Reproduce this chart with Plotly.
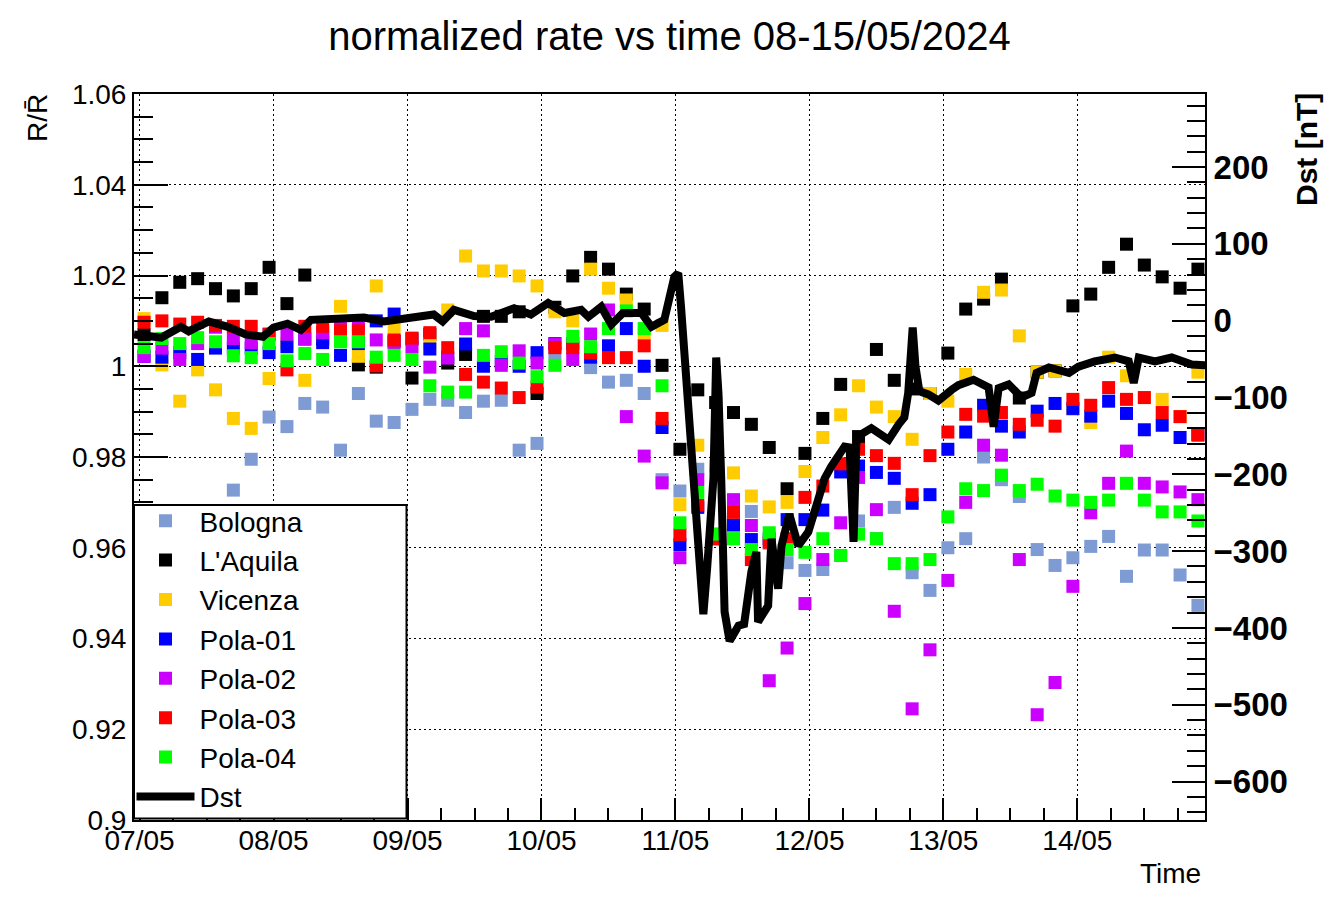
import pandas as pd
import plotly.graph_objects as go

# ---------------- data ----------------
BIN_START = "2024-05-07 00:48"
N_BINS = 60
BIN_MINUTES = 192

bologna = [0.960, 0.958, 0.962, 0.965, 0.963, 0.9727, 0.9795, 0.9888, 0.9867, 0.9918,
           0.9910, 0.9815, 0.9940, 0.9879, 0.9876, 0.9905, 0.9927, 0.9925, 0.9898, 0.9923,
           0.9925, 0.9815, 0.9830, 1.0030, 1.0040, 0.9997, 0.9965, 0.9969, 0.9940, 0.9750,
           0.9725, 0.9773, 0.9630, 0.9620, 0.9680, 0.9610, 0.9567, 0.9550, 0.9552, 0.9583,
           0.9659, 0.9620, 0.9689, 0.9545, 0.9506, 0.9600, 0.9620, 0.9800, 0.9750, 0.9713,
           0.9596, 0.9561, 0.9578, 0.9603, 0.9625, 0.9537, 0.9595, 0.9595, 0.9540, 0.9473]

laquila = [1.0070, 1.0151, 1.0185, 1.0193, 1.0171, 1.0155, 1.0171, 1.0218, 1.0138, 1.0201,
           1.0060, 1.0078, 1.0003, 0.9998, 1.0055, 0.9974, 1.0070, 1.0007, 1.0026, 1.0110,
           1.0110, 1.0120, 0.9940, 1.0130, 1.0199, 1.0240, 1.0214, 1.0159, 1.0126, 1.0002,
           0.9817, 0.9948, 0.9920, 0.9898, 0.9872, 0.9821, 0.9730, 0.9808, 0.9885, 0.9960,
           0.9845, 1.0037, 0.9969, 0.9950, 0.9940, 1.0029, 1.0126, 1.0148, 1.0192, 0.9930,
           0.9987, 0.9990, 1.0133, 1.0159, 1.0218, 1.0269, 1.0223, 1.0197, 1.0172, 1.0214]

vicenza = [1.0105, 1.0003, 0.9923, 0.9992, 0.9948, 0.9885, 0.9863, 0.9973, 1.0050, 0.9969,
           1.0067, 1.0132, 1.0022, 1.0177, 1.0086, 1.0060, 1.0050, 1.0124, 1.0243, 1.0210,
           1.0210, 1.0199, 1.0177, 1.0120, 1.0100, 1.0214, 1.0172, 1.0146, 1.0073, 1.0090,
           0.9695, 0.9826, 0.9780, 0.9765, 0.9714, 0.9690, 0.9700, 0.9768, 0.9843, 0.9893,
           0.9957, 0.9910, 0.9889, 0.9839, 0.9940, 0.9923, 0.9982, 1.0163, 1.0168, 1.0067,
           0.9987, 0.9990, 0.9905, 0.9876, 1.0020, 0.9979, 0.9931, 0.9927, 0.9889, 0.9987]

pola01 = [1.0022, 1.0020, 1.0030, 1.0015, 1.0040, 1.0040, 1.0040, 1.0030, 1.0043, 1.0060,
          1.0052, 1.0024, 1.0050, 1.0100, 1.0115, 1.0060, 1.0038, 1.0020, 1.0049, 1.0000,
          1.0010, 1.0000, 1.0030, 1.0050, 1.0050, 1.0020, 1.0045, 1.0083, 1.0000, 0.9865,
          0.9607, 0.9689, 0.9620, 0.9650, 0.9618, 0.9620, 0.9662, 0.9662, 0.9683, 0.9767,
          0.9780, 0.9766, 0.9753, 0.9698, 0.9717, 0.9817, 0.9855, 0.9914, 0.9868, 0.9855,
          0.9901, 0.9918, 0.9907, 0.9890, 0.9923, 0.9896, 0.9860, 0.9870, 0.9843, 0.9850]

pola02 = [1.0022, 1.0040, 1.0015, 1.0050, 1.0086, 1.0061, 1.0052, 1.0070, 1.0071, 1.0060,
          1.0074, 1.0089, 1.0090, 1.0058, 1.0052, 1.0043, 0.9998, 1.0018, 1.0083, 1.0078,
          1.0002, 1.0034, 1.0007, 1.0049, 1.0015, 1.0071, 1.0124, 0.9889, 0.9802, 0.9743,
          0.9578, 0.9750, 0.9620, 0.9706, 0.9649, 0.9307, 0.9379, 0.9477, 0.9574, 0.9655,
          0.9755, 0.9684, 0.9460, 0.9245, 0.9375, 0.9528, 0.9700, 0.9826, 0.9804, 0.9574,
          0.9232, 0.9303, 0.9515, 0.9677, 0.9742, 0.9813, 0.9742, 0.9734, 0.9723, 0.9706]

pola03 = [1.0097, 1.0100, 1.0093, 1.0097, 1.0090, 1.0088, 1.0088, 1.0071, 0.9992, 1.0088,
          1.0088, 1.0078, 1.0078, 1.0001, 1.0058, 1.0062, 1.0074, 1.0041, 0.9982, 0.9965,
          0.9952, 0.9931, 0.9954, 1.0041, 1.0041, 1.0029, 1.0019, 1.0019, 1.0045, 0.9885,
          0.9629, 0.9694, 0.9620, 0.9678, 0.9574, 0.9612, 0.9620, 0.9711, 0.9736, 0.9785,
          0.9817, 0.9803, 0.9786, 0.9717, 0.9803, 0.9855, 0.9894, 0.9890, 0.9898, 0.9872,
          0.9881, 0.9868, 0.9927, 0.9914, 0.9953, 0.9927, 0.9931, 0.9898, 0.9889, 0.9848]

pola04 = [1.0041, 1.0061, 1.0050, 1.0063, 1.0054, 1.0023, 1.0019, 1.0050, 1.0012, 1.0028,
          1.0015, 1.0054, 1.0054, 1.0020, 1.0024, 1.0015, 0.9957, 0.9943, 0.9943, 1.0024,
          1.0032, 1.0007, 0.9977, 1.0002, 1.0066, 1.0043, 1.0083, 1.0122, 1.0083, 0.9957,
          0.9655, 0.9722, 0.9630, 0.9620, 0.9596, 0.9633, 0.9596, 0.9590, 0.9620, 0.9583,
          0.9630, 0.9620, 0.9565, 0.9565, 0.9574, 0.9668, 0.9730, 0.9726, 0.9760, 0.9726,
          0.9740, 0.9714, 0.9705, 0.9700, 0.9705, 0.9742, 0.9705, 0.9679, 0.9679, 0.9659]

# Dst index: hours since 07/05/2024 00:00 and value in nT
dst_hours = [-1.0, 3.9, 7.4, 8.8, 10.4, 12.4, 15.8, 19.0, 22.1, 24.0,
             26.5, 28.9, 30.7, 34.3, 40.2, 43.8, 46.3, 48.4, 52.7, 54.3,
             56.3, 59.9, 63.0, 67.1, 70.1, 73.2, 76.1, 79.1, 80.4, 82.7,
             84.5, 86.6, 89.9, 91.7, 94.0, 95.8, 96.5, 97.0, 97.6, 98.3,
             98.8, 99.4, 100.1, 101.0, 101.7, 102.4, 102.8, 103.3, 103.7, 104.2,
             104.8, 105.7, 107.3, 108.3, 109.6, 110.5, 110.8, 112.6, 113.2, 114.4,
             115.0, 116.4, 118.0, 119.8, 120.9, 122.7, 123.9, 126.3, 127.2, 127.9,
             128.4, 128.8, 131.1, 134.2, 136.0, 137.0, 137.7, 138.5, 139.0, 139.7,
             141.3, 143.1, 145.5, 146.7, 149.4, 152.1, 153.0, 153.9, 155.7, 158.0,
             159.8, 160.7, 162.9, 166.5, 168.2, 171.1, 174.7, 177.2, 178.1, 179.0,
             181.9, 184.9, 188.5, 190.9]
dst_values = [-18, -22, -8, -14, -8, -1, -8, -18, -21, -9,
              -4, -12, 1, 3, 4, -1, 1, 4, 8, -1,
              14, 6, 5, 16, 8, 23, 10, 14, 5, 18,
              -5, 10, 10, -8, 1, 57, 62, 18, -40, -119,
              -155, -197, -290, -382, -320, -262, -206, -48, -94, -206,
              -379, -417, -397, -395, -327, -301, -392, -371, -284, -349,
              -293, -252, -293, -275, -249, -206, -190, -164, -165, -288,
              -160, -150, -140, -155, -135, -126, -94, -9, -60, -92,
              -96, -104, -90, -84, -77, -87, -138, -88, -83, -100,
              -94, -68, -61, -68, -60, -53, -48, -53, -81, -48,
              -53, -48, -57, -58]

day_ticks = ["2024-05-07", "2024-05-08", "2024-05-09", "2024-05-10",
             "2024-05-11", "2024-05-12", "2024-05-13", "2024-05-14"]
day_labels = ["07/05", "08/05", "09/05", "10/05", "11/05", "12/05", "13/05", "14/05"]
rate_ticks = [0.90, 0.92, 0.94, 0.96, 0.98, 1.00, 1.02, 1.04, 1.06]
rate_labels = ["0.9", "0.92", "0.94", "0.96", "0.98", "1", "1.02", "1.04", "1.06"]
dst_ticks = [-600, -500, -400, -300, -200, -100, 0, 100, 200]

series_names = ["Bologna", "L'Aquila", "Vicenza", "Pola-01", "Pola-02", "Pola-03", "Pola-04"]
series_values = [bologna, laquila, vicenza, pola01, pola02, pola03, pola04]
series_colors = ["#7f9bd3", "#000000", "#ffcc00", "#0000ff", "#cc00ff", "#ff0000", "#00ff00"]

# ---------------- figure ----------------
times = pd.date_range(BIN_START, periods=N_BINS, freq=f"{BIN_MINUTES}min")
dst_times = pd.Timestamp("2024-05-07") + pd.to_timedelta(dst_hours, unit="h")

FONT = "Liberation Sans, Arial, Helvetica, sans-serif"
W, H = 1324, 901          # page body margin is removed below (post_script)
ML, MR, MT, MB = 134, 119, 94, 81
PW, PH = W - ML - MR, H - MT - MB


def px(x):   # page x (pixels) -> paper x
    return (x - ML) / PW


def py(y):   # page y (pixels) -> paper y
    return (H - MB - y) / PH


fig = go.Figure()
for name, vals, col in zip(series_names, series_values, series_colors):
    fig.add_trace(go.Scatter(
        x=times, y=vals, mode="markers", name=name,
        marker=dict(symbol="square", size=13, color=col, line=dict(width=0)),
        yaxis="y",
    ))

fig.add_trace(go.Scatter(
    x=dst_times, y=dst_values, mode="lines", name="Dst",
    line=dict(color="black", width=8), yaxis="y2",
))

grid_dash = "2px,3px"
fig.update_layout(
    width=W, height=H,
    margin=dict(l=ML, r=MR, t=MT, b=MB, pad=0),
    paper_bgcolor="white", plot_bgcolor="white",
    font=dict(family=FONT, color="black", size=28),
    title=dict(text="normalized rate vs time 08-15/05/2024",
               x=0.5, xref="paper", xanchor="center",
               y=1 - 36 / H, yref="container", yanchor="middle",
               font=dict(size=40, family=FONT, color="black")),
    showlegend=True,
    legend=dict(x=px(131.5), y=py(496), xanchor="left", yanchor="top",
                bgcolor="rgba(0,0,0,0)", borderwidth=0,
                font=dict(size=28, family=FONT, color="black"),
                itemwidth=58, tracegroupgap=0, traceorder="normal"),
    xaxis=dict(
        type="date",
        range=["2024-05-06 23:00", "2024-05-14 22:52"],
        tickvals=day_ticks, ticktext=day_labels,
        ticks="inside", ticklen=22, tickwidth=2, tickcolor="black",
        minor=dict(dtick=6 * 3600 * 1000, tick0="2024-05-07", ticks="inside",
                   ticklen=12, tickwidth=2, tickcolor="black", showgrid=False),
        showgrid=True, gridcolor="black", gridwidth=1, griddash=grid_dash,
        showline=True, mirror=True, linecolor="black", linewidth=2,
        zeroline=False, tickfont=dict(size=28), ticklabelstandoff=-6,
    ),
    yaxis=dict(
        range=[0.9, 1.06],
        tickvals=rate_ticks, ticktext=rate_labels,
        ticks="inside", ticklen=34, tickwidth=2, tickcolor="black",
        minor=dict(dtick=0.005, tick0=0.9, ticks="inside", ticklen=19,
                   tickwidth=2, tickcolor="black", showgrid=False),
        showgrid=True, gridcolor="black", gridwidth=1, griddash=grid_dash,
        showline=True, mirror=True, linecolor="black", linewidth=2,
        zeroline=False, tickfont=dict(size=28),
    ),
    yaxis2=dict(
        overlaying="y", side="right", anchor="x",
        range=[-650, 295],
        tickvals=dst_ticks,
        ticks="inside", ticklen=33, tickwidth=2, tickcolor="black",
        minor=dict(dtick=20, tick0=0, ticks="inside", ticklen=18,
                   tickwidth=2, tickcolor="black", showgrid=False),
        showgrid=False, zeroline=False,
        showline=True, linecolor="black", linewidth=2,
        tickfont=dict(size=33, family=FONT, weight="bold"),
    ),
)

# legend frame (drawn above the data, below the legend entries)
fig.add_shape(type="rect", xref="paper", yref="paper",
              x0=px(134), x1=px(406.5), y0=py(818.5), y1=py(505),
              fillcolor="white", line=dict(color="black", width=2), layer="above")

fig.add_annotation(text="R/R\u0304", xref="paper", yref="paper",
                   x=px(37), y=py(118), xanchor="center", yanchor="middle",
                   textangle=-90, showarrow=False,
                   font=dict(size=28, family=FONT, color="black"))
fig.add_annotation(text="Dst [nT]", xref="paper", yref="paper",
                   x=px(1306), y=py(150), xanchor="center", yanchor="middle",
                   textangle=-90, showarrow=False,
                   font=dict(size=30, family=FONT, color="black", weight="bold"))
fig.add_annotation(text="Time", xref="paper", yref="paper",
                   x=px(1203), xanchor="right", y=py(873), yanchor="middle",
                   showarrow=False, font=dict(size=28, family=FONT, color="black"))

fig.write_html(
    "out.html",
    config={"displayModeBar": False},
    post_script="document.body.style.margin='0';document.body.style.overflow='hidden';",
)
